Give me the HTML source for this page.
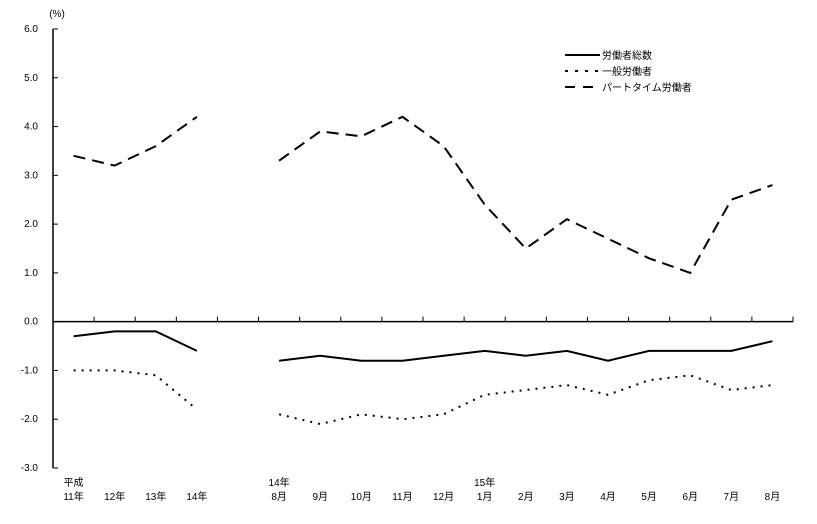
<!DOCTYPE html>
<html><head><meta charset="utf-8"><style>
html,body{margin:0;padding:0;background:#fff;}
svg text{font-family:"Liberation Sans","Noto Sans CJK JP",sans-serif;font-size:10px;fill:#000;}
</style></head><body>
<svg id="chart" width="817" height="519" xmlns="http://www.w3.org/2000/svg"></svg>
<script>
const yTicks=[6,5,4,3,2,1,0,-1,-2,-3];
const yTickLabels=["6.0","5.0","4.0","3.0","2.0","1.0","0.0","-1.0","-2.0","-3.0"];
const xLabelsTop=["平成","","","","","14年","","","","","15年","","","","","","",""];
const xLabelsBottom=["11年","12年","13年","14年","","8月","9月","10月","11月","12月","1月","2月","3月","4月","5月","6月","7月","8月"];
const totalYear=[-0.3,-0.2,-0.2,-0.6];
const totalMonth=[-0.8,-0.7,-0.8,-0.8,-0.7,-0.6,-0.7,-0.6,-0.8,-0.6,-0.6,-0.6,-0.4];
const generalYear=[-1.0,-1.0,-1.1,-1.8];
const generalMonth=[-1.9,-2.1,-1.9,-2.0,-1.9,-1.5,-1.4,-1.3,-1.5,-1.2,-1.1,-1.4,-1.3];
const partYear=[3.4,3.2,3.6,4.2];
const partMonth=[3.3,3.9,3.8,4.2,3.6,2.4,1.5,2.1,1.7,1.3,1.0,2.5,2.8];

const NS="http://www.w3.org/2000/svg";
const svg=document.getElementById('chart');
const X0=53,X1=793,NSLOT=18,Y_TOP=29,Y_BOT=468,YMAX=6,YMIN=-3;
const slot=(X1-X0)/NSLOT;
const xPos=i=>X0+slot*(i+0.5);
const yPos=v=>Y_TOP+(YMAX-v)/(YMAX-YMIN)*(Y_BOT-Y_TOP);
function mk(tag,attrs){const e=document.createElementNS(NS,tag);for(const k in attrs)e.setAttribute(k,attrs[k]);svg.appendChild(e);return e;}

let e=mk('line',{x1:X0,y1:Y_TOP,x2:X0,y2:Y_BOT,stroke:'#000','stroke-width':1.5});


e=mk('line',{x1:X0,y1:yPos(0),x2:X1,y2:yPos(0),stroke:'#000','stroke-width':1.5});


yTicks.forEach((v,i)=>{
  const t=mk('line',{x1:X0,y1:yPos(v),x2:X0+5,y2:yPos(v),stroke:'#000','stroke-width':1});
  
  
  const l=mk('text',{x:38,y:yPos(v)+3,'text-anchor':'end'});
  l.textContent=yTickLabels[i];
  
  
});
for(let k=1;k<=NSLOT;k++){
  const t=mk('line',{x1:X0+slot*k,y1:yPos(0),x2:X0+slot*k,y2:yPos(0)-5,stroke:'#000','stroke-width':1});
  
  
}
const u=mk('text',{x:57,y:17,'text-anchor':'middle','font-size':9});
u.textContent='(%)';


xLabelsBottom.forEach((s,i)=>{
  if(s){const l=mk('text',{x:xPos(i),y:500,'text-anchor':'middle'});l.textContent=s;
  
  }
  if(xLabelsTop[i]){const l=mk('text',{x:xPos(i),y:486,'text-anchor':'middle'});l.textContent=xLabelsTop[i];
  
  }
});
const styles={total:'',general:'2 6',part:'12 7'};
function series(vals,offset,dash,name){
  const pts=vals.map((v,i)=>xPos(i+offset).toFixed(1)+','+yPos(v).toFixed(1)).join(' ');
  const p=mk('polyline',{points:pts,fill:'none',stroke:'#000','stroke-width':2,'stroke-dasharray':dash||'none'});
  
  
}
series(totalYear,0,styles.total,'total-workers-line-annual');
series(totalMonth,5,styles.total,'total-workers-line-monthly');
series(generalYear,0,styles.general,'general-workers-line-annual');
series(generalMonth,5,styles.general,'general-workers-line-monthly');
series(partYear,0,styles.part,'part-time-workers-line-annual');
series(partMonth,5,styles.part,'part-time-workers-line-monthly');
const leg=[['労働者総数','','legend-total-workers'],['一般労働者','3 7','legend-general-workers'],['パートタイム労働者','10 8','legend-part-time-workers']];
leg.forEach((L,i)=>{
  const y=55+i*16;
  const l=mk('line',{x1:565,y1:y,x2:600,y2:y,stroke:'#000','stroke-width':2,'stroke-dasharray':L[1]||'none'});
  
  
  const t=mk('text',{x:602,y:y+4});
  t.textContent=L[0];
  
  
});
</script>
</body></html>
